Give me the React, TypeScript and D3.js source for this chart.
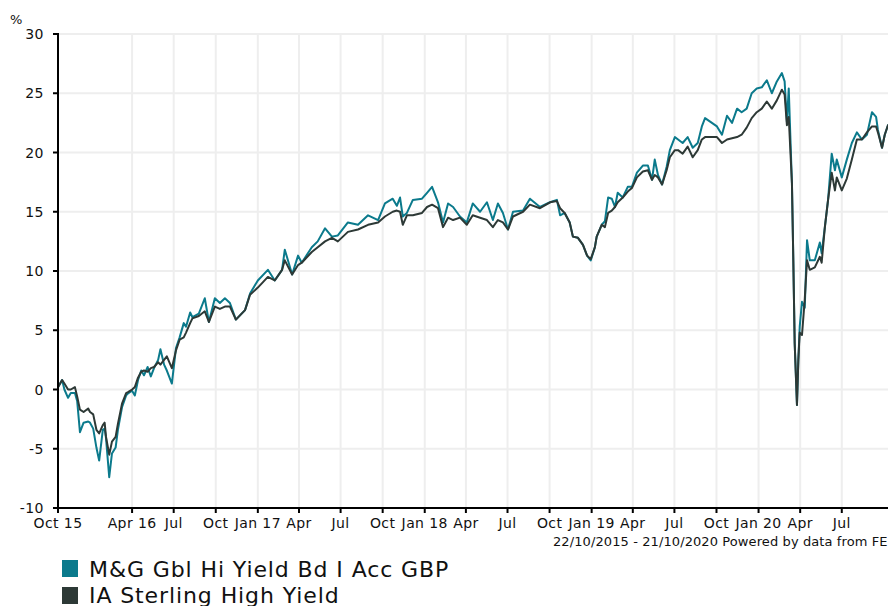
import React from 'react'
import * as d3 from 'd3'

const parseDay = d3.timeParse('%Y-%m-%d')
const startDate = parseDay('2015-10-22') as Date
const endDate = parseDay('2020-10-21') as Date

// days since 22/10/2015
const dayOffsets = [
  0, 9, 14, 22, 28, 37, 42, 48, 56, 66, 70, 77, 84, 90, 98, 102, 105, 112, 118, 126,
  131, 140, 149, 154, 162, 168, 175, 182, 188, 196, 203, 210, 219, 224, 232, 238, 249, 258, 266, 275,
  280, 289, 294, 308, 321, 330, 343, 354, 365, 376, 389, 409, 420, 437, 459, 474, 490, 496, 512, 525,
  533, 555, 568, 584, 599, 612, 634, 656, 678, 700, 715, 732, 741, 748, 754, 763, 776, 796, 807, 818,
  831, 842, 853, 864, 879, 894, 907, 923, 938, 951, 962, 973, 984, 995, 1017, 1032, 1054, 1076, 1091, 1098,
  1108, 1119, 1126, 1137, 1148, 1157, 1165, 1174, 1178, 1189, 1196, 1203, 1211, 1218, 1224, 1235, 1246, 1255, 1266, 1279,
  1290, 1299, 1305, 1312, 1321, 1331, 1338, 1349, 1356, 1366, 1377, 1388, 1399, 1408, 1415, 1430, 1441, 1452, 1463, 1474,
  1485, 1495, 1506, 1517, 1528, 1539, 1550, 1561, 1572, 1583, 1589, 1594, 1598, 1605, 1608, 1611, 1616, 1619, 1622, 1627,
  1633, 1638, 1644, 1655, 1666, 1670, 1677, 1684, 1692, 1699, 1703, 1714, 1725, 1736, 1747, 1758, 1769, 1780, 1789, 1793,
  1802, 1808, 1815, 1826,
]

// M&G Gbl Hi Yield Bd I Acc GBP, cumulative %
const fundValues = [
  0.2, 0.8, 0.0, -0.7, -0.3, -0.3, -1.0, -3.6, -2.8, -2.7, -2.8, -3.3, -4.9, -6.0, -3.4, -3.3, -4.1, -7.4, -5.4, -4.9,
  -3.4, -1.5, -0.5, -0.3, -0.1, -0.5, 0.8, 1.6, 1.2, 1.9, 1.1, 1.8, 2.5, 3.4, 2.1, 1.6, 0.5, 3.5, 4.4, 5.6,
  5.3, 6.5, 6.1, 6.4, 7.7, 5.7, 7.7, 7.3, 7.7, 7.3, 5.9, 6.7, 8.1, 9.2, 10.1, 9.2, 10.1, 11.8, 9.7, 11.3,
  10.7, 12.0, 12.5, 13.6, 12.9, 13.0, 14.1, 13.9, 14.7, 14.3, 15.7, 16.1, 15.5, 16.2, 14.6, 14.9, 16.0, 16.1, 16.6, 17.1,
  15.8, 14.1, 15.7, 15.4, 14.6, 14.1, 15.7, 15.0, 15.8, 14.3, 15.7, 14.9, 13.5, 15.0, 15.1, 16.1, 15.4, 15.8, 16.0, 14.7,
  14.9, 14.1, 12.9, 12.8, 12.2, 11.3, 10.9, 12.0, 12.9, 13.9, 14.2, 16.2, 16.1, 15.4, 16.6, 16.2, 17.1, 17.1, 18.3, 18.9,
  18.9, 17.7, 19.4, 18.1, 17.3, 18.8, 20.2, 21.3, 21.1, 20.8, 21.3, 20.4, 20.8, 22.2, 22.9, 22.5, 22.2, 21.5, 23.1, 22.5,
  23.7, 23.4, 23.7, 25.0, 25.4, 25.5, 26.1, 25.0, 26.0, 26.7, 26.0, 22.6, 25.4, 17.4, 10.9, 3.9, -1.3, 2.5, 5.3, 7.4,
  6.9, 12.6, 10.9, 10.9, 12.4, 11.5, 13.7, 16.0, 19.9, 18.5, 19.4, 17.9, 19.4, 20.8, 21.7, 21.1, 21.5, 23.4, 23.0, 21.9,
  20.4, 21.5, 22.3, 22.6,
]

// IA Sterling High Yield, cumulative %
const sectorValues = [
  0.2, 0.8, 0.5, 0.0, 0.0, 0.2, -0.6, -1.7, -1.9, -1.6, -1.9, -2.1, -3.4, -3.7, -3.0, -2.8, -4.0, -5.5, -4.4, -4.0,
  -2.9, -1.2, -0.3, -0.2, 0.0, 0.2, 1.0, 1.5, 1.6, 1.5, 1.8, 1.9, 2.3, 2.1, 2.5, 2.8, 1.8, 3.3, 4.2, 4.4,
  4.8, 5.6, 6.0, 6.2, 6.6, 5.7, 7.0, 6.8, 7.0, 7.0, 5.9, 6.7, 8.0, 8.6, 9.5, 9.2, 10.1, 10.9, 9.7, 10.5,
  10.7, 11.6, 12.0, 12.5, 12.8, 12.5, 13.3, 13.5, 13.9, 14.1, 14.6, 15.0, 15.1, 15.0, 13.9, 14.7, 14.7, 14.9, 15.4, 15.6,
  15.3, 13.7, 14.5, 14.3, 14.5, 13.9, 14.7, 14.5, 14.3, 13.7, 14.3, 14.1, 13.5, 14.6, 15.0, 15.6, 15.3, 15.8, 15.9, 15.3,
  14.9, 14.1, 12.9, 12.8, 12.2, 11.3, 11.0, 12.0, 12.9, 13.9, 13.7, 14.9, 15.1, 15.4, 15.8, 16.2, 16.7, 17.0, 17.9, 18.4,
  18.5, 17.7, 18.1, 17.9, 17.3, 18.5, 19.6, 20.2, 20.2, 19.9, 20.5, 19.6, 20.2, 21.1, 21.3, 21.3, 21.3, 20.8, 21.1, 21.2,
  21.3, 21.5, 22.1, 22.9, 23.4, 23.7, 24.3, 23.7, 24.4, 25.3, 24.9, 22.3, 23.0, 17.4, 10.9, 3.9, -1.3, 2.5, 4.8, 4.6,
  7.6, 10.9, 10.1, 10.3, 11.2, 10.7, 13.7, 16.0, 18.3, 16.8, 17.9, 16.8, 17.8, 19.4, 21.1, 21.1, 21.7, 22.2, 22.2, 21.7,
  20.4, 21.5, 22.3, 22.6,
]

const seriesNames = ['M&G Gbl Hi Yield Bd I Acc GBP', 'IA Sterling High Yield']
const seriesColors = ['#0b7a8c', '#2d3936']

const yTicks = [-10, -5, 0, 5, 10, 15, 20, 25, 30]
const xTickDates = [
  '2015-10-22', '2016-04-01', '2016-07-01', '2016-10-01', '2017-01-01', '2017-04-01', '2017-07-01',
  '2017-10-01', '2018-01-01', '2018-04-01', '2018-07-01', '2018-10-01', '2019-01-01', '2019-04-01',
  '2019-07-01', '2019-10-01', '2020-01-01', '2020-04-01', '2020-07-01',
]
const xTickLabels = [
  'Oct 15', 'Apr 16', 'Jul', 'Oct', 'Jan 17', 'Apr', 'Jul', 'Oct', 'Jan 18', 'Apr', 'Jul', 'Oct',
  'Jan 19', 'Apr', 'Jul', 'Oct', 'Jan 20', 'Apr', 'Jul',
]
const footerText = '22/10/2015 - 21/10/2020 Powered by data from FE'

const W = 888
const H = 606
const left = 58
const top = 34
const bottom = 508
const font = '"DejaVu Sans", Verdana, sans-serif'

export default function App() {
  const x = d3.scaleTime().domain([startDate, endDate]).range([left, 893])
  const y = d3.scaleLinear().domain([-10, 30]).range([bottom, top])

  const dates = dayOffsets.map(d => d3.timeDay.offset(startDate, d))
  const line = d3.line<number>()
    .x((_, i) => x(dates[i]))
    .y(v => y(v))

  const ticks = xTickDates.map(s => parseDay(s) as Date)

  return (
    <svg width={W} height={H} style={{ position: 'absolute', left: 0, top: 0, display: 'block' }}
      fontFamily={font}>
      <rect width={W} height={H} fill="#fff" />
      {/* grid */}
      {yTicks.slice(1).map(t => (
        <line key={'gy' + t} x1={left} x2={W} y1={y(t)} y2={y(t)} stroke="#eeeeee" strokeWidth={2} />
      ))}
      {ticks.slice(1).map((t, i) => (
        <line key={'gx' + i} x1={x(t)} x2={x(t)} y1={top} y2={bottom} stroke="#eeeeee" strokeWidth={2} />
      ))}

      {/* series, fund under sector */}
      <path d={line(fundValues) || ''} fill="none" stroke={seriesColors[0]} strokeWidth={2} strokeLinejoin="round" />
      <path d={line(sectorValues) || ''} fill="none" stroke={seriesColors[1]} strokeWidth={2} strokeLinejoin="round" />

      {/* axes */}
      <line x1={left} x2={left} y1={top - 1} y2={bottom} stroke="#000" strokeWidth={2} />
      <line x1={left - 1} x2={W} y1={bottom} y2={bottom} stroke="#000" strokeWidth={2} />
      {yTicks.map(t => (
        <g key={'yt' + t}>
          <line x1={left - 5} x2={left} y1={y(t)} y2={y(t)} stroke="#000" strokeWidth={2} />
          <text x={left - 14} y={y(t) + 5} textAnchor="end" fontSize={14} letterSpacing={0.5} fill="#111">{t}</text>
        </g>
      ))}
      <text x={10} y={24} fontSize={13} fill="#111">%</text>
      {ticks.map((t, i) => (
        <g key={'xt' + i}>
          <line x1={x(t)} x2={x(t)} y1={bottom} y2={bottom + 5} stroke="#000" strokeWidth={2} />
          <text x={x(t)} y={528} textAnchor="middle" fontSize={14} letterSpacing={0.4} fill="#111">{xTickLabels[i]}</text>
        </g>
      ))}
      <text x={553} y={546} fontSize={13} letterSpacing={0.1} fill="#111">{footerText}</text>

      {/* legend */}
      {seriesNames.map((n, i) => (
        <g key={n}>
          <rect x={62} y={560 + i * 27} width={16} height={17} fill={seriesColors[i]} />
          <text x={89} y={577 + i * 26} fontSize={22} letterSpacing={0.9} fill="#111">{n}</text>
        </g>
      ))}
    </svg>
  )
}
